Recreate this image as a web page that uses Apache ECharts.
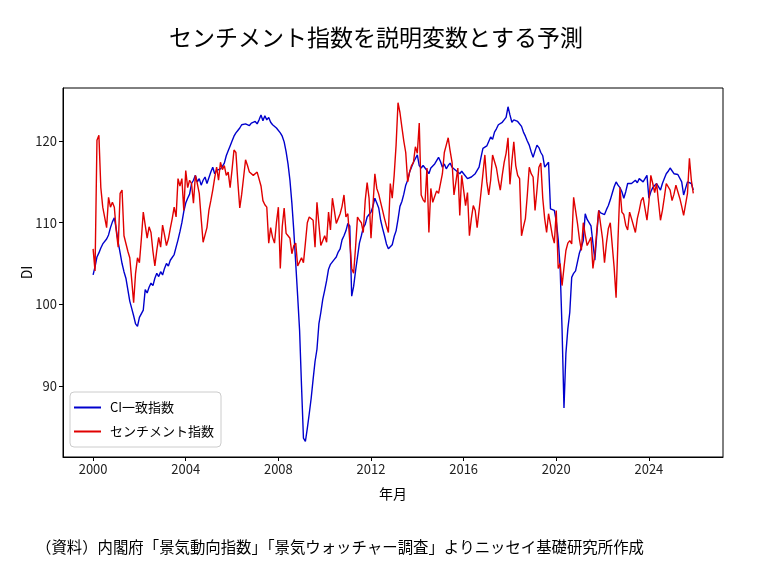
<!DOCTYPE html>
<html>
<head>
<meta charset="utf-8">
<script src="https://cdn.jsdelivr.net/npm/echarts@6/dist/echarts.min.js"></script>
<style>
html,body{margin:0;padding:0;background:#fff;}
#chart{width:775px;height:573px;}
</style>
</head>
<body>
<div id="chart"></div>
<script>
// Monthly data, Jan 2000 - Dec 2025
const startYear = 2000;
const ciIndex = [
  103.6,104.6,105.8,106.3,106.9,107.4,107.2,108.0,108.5,109.4,110.1,110.6,
  109.2,107.6,106.3,105.0,104.0,103.2,101.8,100.4,99.5,98.6,97.6,97.3,
  98.4,98.2,99.3,101.8,101.4,102.1,102.6,102.3,103.2,103.8,103.4,104.0,
  103.6,104.4,105.0,104.7,105.4,105.6,106.1,107.0,107.9,108.9,110.0,111.4,
  112.4,113.0,113.5,114.8,115.2,115.8,115.0,115.4,114.6,115.2,115.6,114.8,
  115.0,116.2,116.8,116.0,116.4,116.2,116.6,116.9,117.3,118.2,118.8,119.4,
  120.0,120.6,121.0,121.3,121.6,122.0,121.8,122.1,122.3,121.9,122.2,122.0,
  122.4,122.1,122.6,123.2,122.5,123.1,122.6,122.9,122.3,122.0,121.8,121.6,
  121.4,121.0,120.6,119.9,118.7,117.2,115.2,112.4,109.0,105.0,101.0,96.8,
  90.0,83.6,83.2,84.8,86.6,88.5,90.8,93.0,94.5,97.6,99.0,100.6,
  101.7,102.9,104.3,104.9,105.2,105.5,105.8,106.4,106.8,107.9,108.4,109.0,
  109.9,109.6,101.0,102.2,104.1,105.8,107.5,108.4,109.4,109.8,110.7,111.0,
  111.3,112.0,113.0,112.4,111.8,110.3,109.3,108.4,107.4,106.8,106.6,107.3,
  108.3,109.0,110.4,112.0,112.6,113.5,114.6,115.2,116.2,116.4,117.4,117.6,
  118.3,117.0,116.7,117.0,116.8,116.4,116.0,116.7,116.5,117.2,117.4,118.0,
  117.5,116.8,117.2,116.6,117.0,117.3,116.8,117.0,116.4,116.6,116.0,116.3,
  116.0,115.8,115.4,115.2,115.6,115.8,116.0,116.4,116.8,118.0,119.1,119.0,
  119.4,119.5,120.5,120.2,121.1,121.5,122.0,121.8,122.3,122.6,122.9,124.2,
  123.2,122.3,122.6,122.8,122.4,122.2,121.8,121.1,120.6,120.0,119.5,118.7,
  118.0,118.8,119.5,119.2,118.6,118.2,116.8,117.1,117.4,111.7,111.6,111.5,
  110.2,108.0,104.5,97.0,87.3,94.0,97.0,99.0,103.3,103.8,104.1,105.2,
  106.3,107.0,107.8,111.1,110.4,110.0,109.6,109.4,105.4,108.6,111.5,111.2,
  111.3,111.0,111.6,112.1,112.8,113.6,114.4,115.0,114.6,114.3,113.8,113.0,
  113.8,114.8,114.6,114.8,115.0,115.2,114.9,115.4,115.2,115.0,115.4,115.8,
  113.0,113.8,114.3,114.5,114.8,114.6,114.0,114.8,115.4,116.0,116.3,116.7,
  116.5,116.0,116.2,115.9,115.8,115.0,113.4,114.2,115.0,115.1,114.8,114.0
];
const sentimentIndex = [
  106.8,104.1,120.1,120.7,114.3,111.9,112.1,109.4,113.1,111.9,112.5,111.9,
  109.0,107.0,113.6,114.0,108.4,108.2,106.5,105.7,103.0,100.2,103.8,105.7,
  105.1,108.0,111.3,111.3,108.1,109.5,108.8,106.5,104.7,106.6,108.2,107.0,
  109.7,108.5,107.2,108.0,109.3,110.5,111.9,110.7,115.4,114.5,115.4,111.5,
  116.4,114.3,115.2,114.8,112.4,115.8,114.8,113.6,110.5,107.6,108.5,109.4,
  111.5,112.7,114.0,115.5,116.8,115.2,117.4,116.5,117.0,115.8,116.2,114.3,
  116.5,118.9,118.6,115.0,111.8,113.5,115.6,117.7,117.0,116.2,116.0,115.8,
  115.8,116.2,116.4,114.5,112.7,112.2,111.9,107.5,109.4,108.2,107.5,110.0,
  111.9,104.4,109.5,111.8,108.7,108.4,108.1,106.2,107.2,107.5,104.7,105.2,
  105.7,105.1,107.5,110.0,110.7,110.5,110.3,107.0,112.5,109.8,107.2,107.8,
  108.4,107.6,111.3,109.1,113.0,111.5,109.9,110.5,111.1,112.0,113.4,110.7,
  111.1,111.0,104.4,103.8,107.0,110.7,110.3,110.0,108.8,112.7,114.9,113.0,
  108.1,112.0,116.0,114.2,113.5,112.5,111.5,110.5,109.6,108.8,114.8,113.0,
  115.8,119.5,124.7,123.5,121.7,120.0,118.6,115.0,116.2,117.0,117.4,119.3,
  118.5,122.2,113.4,112.8,112.5,116.7,108.8,114.2,112.5,113.2,113.9,113.6,
  113.6,116.0,118.6,119.5,120.4,118.8,117.4,113.4,115.0,116.7,110.9,115.8,
  114.0,112.1,113.7,108.4,110.5,112.1,111.5,109.4,111.5,113.7,116.0,118.3,
  115.0,113.4,115.2,118.3,117.5,116.7,115.2,114.0,115.8,117.4,118.5,120.4,
  114.7,117.5,119.9,117.0,115.8,115.4,108.4,109.5,110.5,113.4,116.8,116.0,
  115.6,111.5,114.0,116.8,117.3,113.0,110.5,108.8,111.1,109.8,108.4,107.5,
  111.5,104.4,105.0,102.3,104.5,106.6,107.5,107.8,107.4,113.1,111.5,109.9,
  108.0,106.6,110.0,108.5,107.2,107.7,108.2,104.4,106.2,109.0,111.5,111.5,
  108.0,105.1,107.5,109.3,110.0,110.0,104.5,100.8,108.0,114.3,111.3,111.0,
  109.7,109.1,111.3,110.5,110.7,108.8,110.5,111.5,112.7,113.1,113.1,110.3,
  112.5,115.8,114.8,113.7,114.8,112.5,110.3,111.5,113.1,114.8,114.8,114.0,
  112.7,113.5,114.6,113.8,113.0,112.0,110.9,111.1,113.6,117.9,115.2,113.6
];
const xTicks = [2000, 2004, 2008, 2012, 2016, 2020, 2024];
const yTicks = [90, 100, 110, 120];
const seriesNames = ['CI一致指数', 'センチメント指数'];

const toPairs = arr => arr.map((v, i) => [startYear + i / 12, v]);
const FONT = '"Noto Sans CJK JP", "Noto Sans", sans-serif';

const chart = echarts.init(document.getElementById('chart'), null, {renderer: 'canvas'});
chart.setOption({
  backgroundColor: '#ffffff',
  animation: false,
  title: [
    {
      text: 'センチメント指数を説明変数とする予測',
      left: 164, top: 21,
      textStyle: {fontFamily: FONT, fontSize: 23, fontWeight: 'normal', color: '#000'}
    },
    {
      text: '（資料）内閣府「景気動向指数」「景気ウォッチャー調査」よりニッセイ基礎研究所作成',
      left: 31, top: 534,
      textStyle: {fontFamily: FONT, fontSize: 15.4, fontWeight: 'normal', color: '#000'}
    }
  ],
  grid: {
    left: 63, right: 52, top: 88, bottom: 116,
    show: true, borderColor: '#000', borderWidth: 1, backgroundColor: 'transparent'
  },
  legend: {
    orient: 'vertical',
    left: 70, top: 392,
    data: seriesNames,
    icon: 'rect',
    itemWidth: 27, itemHeight: 2,
    itemGap: 11,
    padding: [9, 7, 9, 4],
    borderColor: '#cccccc', borderWidth: 1, borderRadius: 4,
    backgroundColor: 'rgba(255,255,255,0.9)',
    textStyle: {fontFamily: FONT, fontSize: 13, color: '#000', padding: [0, 0, 0, 4]}
  },
  xAxis: {
    type: 'value',
    min: 1998.7, max: 2027.2,
    name: '年月',
    nameLocation: 'middle',
    nameGap: 30,
    nameMoveOverlap: false,
    nameTextStyle: {fontFamily: FONT, fontSize: 14, color: '#000'},
    axisLine: {show: true, lineStyle: {color: '#000', width: 1}},
    axisTick: {show: true, length: 4, inside: false, customValues: xTicks, lineStyle: {color: '#000'}},
    axisLabel: {customValues: xTicks, fontFamily: FONT, fontSize: 13, color: '#222', margin: 6,
      formatter: v => String(v)},
    splitLine: {show: false}
  },
  yAxis: {
    type: 'value',
    min: 81.3, max: 126.5,
    name: 'DI',
    nameLocation: 'middle',
    nameGap: 36,
    nameMoveOverlap: false,
    nameRotate: 90,
    nameTextStyle: {fontFamily: FONT, fontSize: 14, color: '#000', verticalAlign: 'middle', align: 'center'},
    axisLine: {show: true, lineStyle: {color: '#000', width: 1}},
    axisTick: {show: true, length: 4, inside: false, customValues: yTicks, lineStyle: {color: '#000'}},
    axisLabel: {customValues: yTicks, fontFamily: FONT, fontSize: 13, color: '#222', margin: 6,
      formatter: v => String(v)},
    splitLine: {show: false}
  },
  series: [
    {
      name: seriesNames[0],
      type: 'line',
      data: toPairs(ciIndex),
      symbol: 'none',
      color: '#0000cd',
      lineStyle: {color: '#0000cd', width: 1.4},
      z: 2
    },
    {
      name: seriesNames[1],
      type: 'line',
      data: toPairs(sentimentIndex),
      symbol: 'none',
      color: '#e00000',
      lineStyle: {color: '#e00000', width: 1.4},
      z: 3
    }
  ]
});
</script>
</body>
</html>
